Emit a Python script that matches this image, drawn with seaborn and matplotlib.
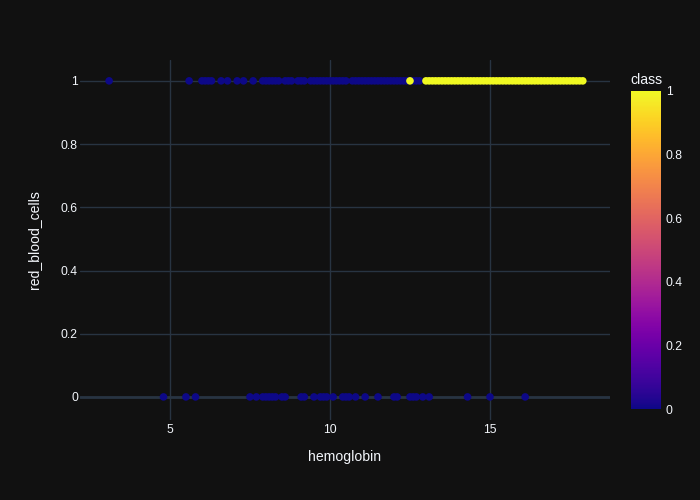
import pandas as pd
import numpy as np
import matplotlib
import matplotlib.pyplot as plt
import seaborn as sns

# hemoglobin values, class 0 (ckd) with red_blood_cells = 1
hb_ckd_rbc1 = [3.1, 5.6, 6.0, 6.1, 6.2, 6.3, 6.6, 6.8, 7.1, 7.3, 7.6, 7.9, 8.0, 8.1,
               8.2, 8.3, 8.4, 8.6, 8.7, 8.8, 9.0, 9.1, 9.2, 9.4, 9.5, 9.6, 9.7, 9.8,
               9.9, 10.0, 10.1, 10.2, 10.3, 10.4, 10.5, 10.7, 10.8, 10.9, 11.0, 11.1,
               11.2, 11.3, 11.4, 11.5, 11.6, 11.7, 11.8, 11.9, 12.0, 12.1, 12.2, 12.3,
               12.4, 12.6, 12.7, 12.8]
# class 0 with red_blood_cells = 0
hb_ckd_rbc0 = [4.8, 5.5, 5.8, 7.5, 7.7, 7.9, 8.0, 8.1, 8.2, 8.3, 8.5, 8.6, 9.1, 9.2,
               9.5, 9.7, 9.8, 9.9, 10.1, 10.4, 10.5, 10.6, 10.8, 11.1, 11.5, 12.0,
               12.1, 12.5, 12.6, 12.7, 12.9, 13.1, 14.3, 15.0, 16.1]
# class 1 (notckd), all with red_blood_cells = 1
hb_notckd = [12.5, 13.0, 13.1, 13.2, 13.3, 13.4, 13.5, 13.6, 13.7, 13.8, 13.9, 14.0,
             14.1, 14.2, 14.3, 14.4, 14.5, 14.6, 14.7, 14.8, 14.9, 15.0, 15.1, 15.2,
             15.3, 15.4, 15.5, 15.6, 15.7, 15.8, 15.9, 16.0, 16.1, 16.2, 16.3, 16.4,
             16.5, 16.6, 16.7, 16.8, 16.9, 17.0, 17.1, 17.2, 17.3, 17.4, 17.5, 17.6,
             17.7, 17.8, 17.9]

df = pd.DataFrame({
    'hemoglobin': hb_ckd_rbc1 + hb_ckd_rbc0 + hb_notckd,
    'red_blood_cells': [1] * len(hb_ckd_rbc1) + [0] * len(hb_ckd_rbc0) + [1] * len(hb_notckd),
    'class': [0] * (len(hb_ckd_rbc1) + len(hb_ckd_rbc0)) + [1] * len(hb_notckd),
})

bg = '#111111'
grid = '#283442'
txt = '#f2f5fa'

sns.set_theme(style='dark')
plt.rcParams['font.family'] = ['Liberation Sans', 'DejaVu Sans']

fig = plt.figure(figsize=(7, 5), dpi=100, facecolor=bg)
ax = fig.add_axes([80 / 700, 80 / 500, 530 / 700, 360 / 500])
ax.set_facecolor(bg)

sns.scatterplot(data=df, x='hemoglobin', y='red_blood_cells', hue='class',
                palette='plasma', hue_norm=(0, 1), s=30, linewidth=0,
                legend=False, ax=ax, zorder=3)

ax.set_xlim(2.19, 18.75)
ax.set_ylim(-0.073, 1.066)
ax.set_xticks([5, 10, 15])
ax.set_yticks([0, 0.2, 0.4, 0.6, 0.8, 1])
ax.set_yticklabels(['0', '0.2', '0.4', '0.6', '0.8', '1'])
ax.grid(True, color=grid, linewidth=1)
ax.axhline(0, color=grid, linewidth=2, zorder=1)
for s in ax.spines.values():
    s.set_visible(False)
ax.tick_params(colors=txt, labelsize=8.7, length=0)
ax.tick_params(axis='x', pad=3)
ax.tick_params(axis='y', pad=1.5)
ax.set_xlabel('hemoglobin', color=txt, fontsize=10.1, labelpad=10)
ax.set_ylabel('red_blood_cells', color=txt, fontsize=10.1, labelpad=14)

cax = fig.add_axes([631 / 700, 91 / 500, 30 / 700, 318 / 500])
sm = matplotlib.cm.ScalarMappable(norm=matplotlib.colors.Normalize(0, 1), cmap='plasma')
cb = fig.colorbar(sm, cax=cax)
cb.outline.set_visible(False)
cb.set_ticks([0, 0.2, 0.4, 0.6, 0.8, 1])
cb.set_ticklabels(['0', '0.2', '0.4', '0.6', '0.8', '1'])
cax.tick_params(colors=txt, labelsize=8.7, length=0, pad=3.5)
cax.set_title('class', color=txt, fontsize=10.1, loc='left', pad=5, x=-0.02)

fig.savefig('out.png', facecolor=bg)
